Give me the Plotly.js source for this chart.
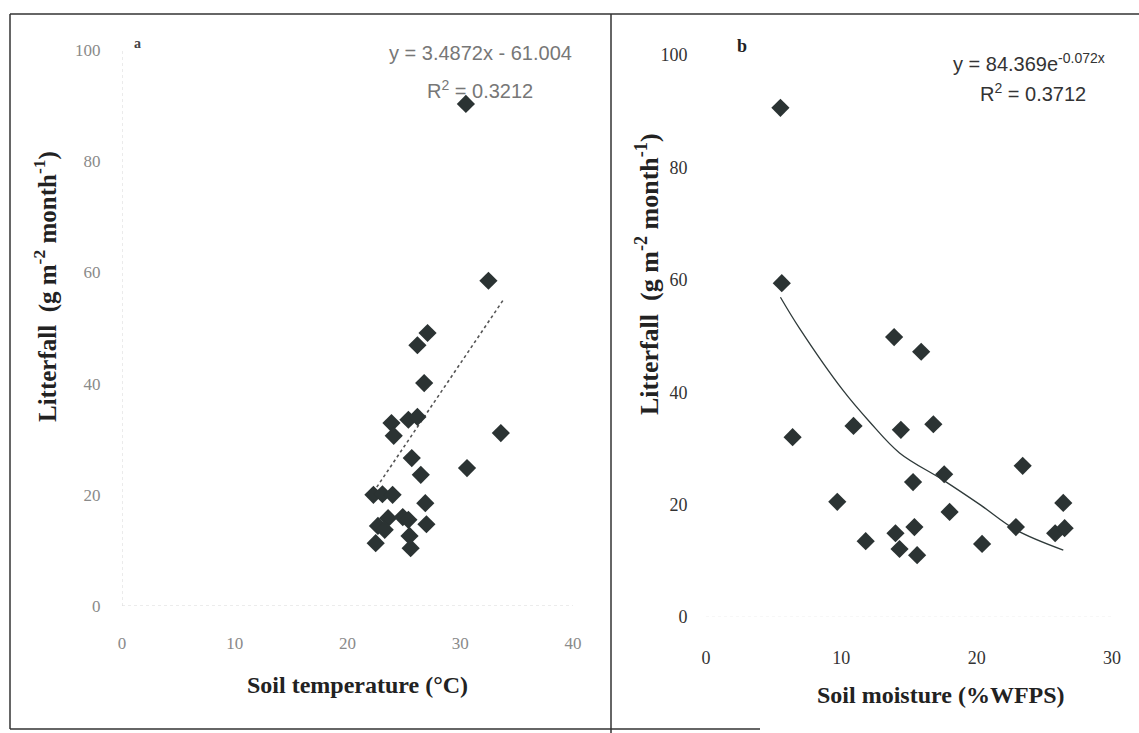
<!DOCTYPE html>
<html>
<head>
<meta charset="utf-8">
<script src="https://cdn.plot.ly/plotly-3.0.1.min.js"></script>
<style>html,body{margin:0;padding:0;background:#fff;}#chart{width:1139px;height:733px;}</style>
</head>
<body>
<div id="chart"></div>
<script>
// Panel a: soil temperature vs litterfall
const tempA = [30.5, 32.5, 27.1, 26.2, 26.8, 23.9, 25.4, 26.2, 24.1, 33.6, 25.7, 30.6, 26.5, 22.3, 23.1, 24.0, 26.9, 22.7, 23.6, 24.9, 25.4, 23.3, 27.0, 25.5, 22.5, 25.6];
const litterA = [90.3, 58.5, 49.1, 46.9, 40.1, 32.9, 33.5, 34.0, 30.6, 31.1, 26.6, 24.8, 23.6, 20.0, 20.1, 20.0, 18.5, 14.4, 15.8, 16.0, 15.5, 13.7, 14.7, 12.6, 11.3, 10.4];
// linear trend line endpoints
const trendAx = [22.0, 33.8];
const trendAy = [19.6, 55.0];

// Panel b: soil moisture vs litterfall
const moistB = [5.5, 5.6, 6.4, 13.9, 15.9, 10.9, 14.4, 16.8, 23.4, 17.6, 15.3, 9.7, 18.0, 26.4, 15.4, 14.0, 22.9, 25.8, 26.5, 11.8, 14.3, 15.6, 20.4];
const litterB = [90.6, 59.4, 32.0, 49.8, 47.2, 34.0, 33.3, 34.3, 26.9, 25.4, 24.0, 20.5, 18.7, 20.3, 16.0, 14.9, 16.0, 14.9, 15.8, 13.5, 12.1, 11.0, 13.0];
// exponential trend curve
const trendBx = [5.5, 6.9, 10.1, 12.1, 14.3, 17.5, 20.3, 22.9, 26.4];
const trendBy = [56.9, 51.4, 40.4, 34.7, 29.2, 24.4, 19.9, 15.5, 11.9];

const xTicksA = [0, 10, 20, 30, 40];
const yTicks = [0, 20, 40, 60, 80, 100];
const xTicksB = [0, 10, 20, 30];

const W = 1139, H = 733;
const px = v => v / W;
const py = v => 1 - v / H;

const markerStyle = {symbol: 'diamond', size: 14, color: '#2b3333', line: {width: 0}};

const traces = [
  {x: trendAx, y: trendAy, mode: 'lines', xaxis: 'x', yaxis: 'y', line: {color: '#555', width: 1.6, dash: 'dot'}, showlegend: false, hoverinfo: 'skip'},
  {x: tempA, y: litterA, mode: 'markers', xaxis: 'x', yaxis: 'y', marker: markerStyle, showlegend: false, cliponaxis: false},
  {x: trendBx, y: trendBy, mode: 'lines', xaxis: 'x2', yaxis: 'y2', line: {color: '#2f3a3a', width: 1.3, shape: 'spline'}, showlegend: false, hoverinfo: 'skip'},
  {x: moistB, y: litterB, mode: 'markers', xaxis: 'x2', yaxis: 'y2', marker: markerStyle, showlegend: false, cliponaxis: false}
];

const serif = 'Liberation Serif, Times New Roman, serif';
const sans = 'Liberation Sans, Arial, sans-serif';
const yTitle = '<b>Litterfall  (g m<sup>-2</sup> month<sup>-1</sup>)</b>';

const layout = {
  width: W, height: H,
  margin: {l: 0, r: 0, t: 0, b: 0},
  paper_bgcolor: '#fff', plot_bgcolor: 'rgba(0,0,0,0)',
  showlegend: false,
  xaxis: {
    domain: [px(122), px(573)], range: [0, 40], anchor: 'y',
    tickvals: xTicksA, ticktext: xTicksA.map(String),
    showgrid: false, zeroline: false, showline: false,
    ticks: 'outside', ticklen: 22, tickcolor: 'rgba(0,0,0,0)',
    tickfont: {family: serif, size: 17, color: '#8a8a8a'}
  },
  yaxis: {
    domain: [py(606), py(50)], range: [0, 100], anchor: 'x',
    tickvals: yTicks, ticktext: yTicks.map(String),
    showgrid: false, zeroline: false, showline: false,
    ticks: 'outside', ticklen: 17, tickcolor: 'rgba(0,0,0,0)',
    tickfont: {family: serif, size: 17, color: '#8a8a8a'}
  },
  xaxis2: {
    domain: [px(706), px(1112)], range: [0, 30], anchor: 'y2',
    tickvals: xTicksB, ticktext: xTicksB.map(String),
    showgrid: false, zeroline: false, showline: false,
    ticks: 'outside', ticklen: 24, tickcolor: 'rgba(0,0,0,0)',
    tickfont: {family: serif, size: 18, color: '#333'}
  },
  yaxis2: {
    domain: [py(617), py(55)], range: [0, 100], anchor: 'x2',
    tickvals: yTicks, ticktext: yTicks.map(String),
    showgrid: false, zeroline: false, showline: false,
    ticks: 'outside', ticklen: 14, tickcolor: 'rgba(0,0,0,0)',
    tickfont: {family: serif, size: 18, color: '#333'}
  },
  shapes: [
    // figure frame
    {type: 'line', xref: 'paper', yref: 'paper', x0: px(10), x1: 1, y0: py(14), y1: py(14), line: {color: '#333', width: 1.5}},
    {type: 'line', xref: 'paper', yref: 'paper', x0: px(10), x1: px(10), y0: py(14), y1: py(729), line: {color: '#333', width: 1.5}},
    {type: 'line', xref: 'paper', yref: 'paper', x0: px(10), x1: px(760), y0: py(729), y1: py(729), line: {color: '#333', width: 1.5}},
    {type: 'line', xref: 'paper', yref: 'paper', x0: px(611), x1: px(611), y0: py(14), y1: 0, line: {color: '#333', width: 1.5}},
    // faint dotted axes of panel a
    {type: 'line', xref: 'x', yref: 'y', x0: 0, x1: 0, y0: 0, y1: 100, line: {color: '#d8d8d8', width: 1, dash: 'dot'}},
    {type: 'line', xref: 'x', yref: 'y', x0: 0, x1: 40, y0: 0, y1: 0, line: {color: '#d8d8d8', width: 1, dash: 'dot'}},
    {type: 'line', xref: 'x2', yref: 'y2', x0: 0, x1: 30, y0: 0, y1: 0, line: {color: '#eeeeee', width: 1, dash: 'dot'}}
  ],
  annotations: [
    // panel letters
    {xref: 'paper', yref: 'paper', x: px(137), y: py(43), text: '<b>a</b>', showarrow: false, xanchor: 'center', yanchor: 'middle', font: {family: serif, size: 14, color: '#444'}},
    {xref: 'paper', yref: 'paper', x: px(742), y: py(46), text: '<b>b</b>', showarrow: false, xanchor: 'center', yanchor: 'middle', font: {family: serif, size: 18, color: '#222'}},
    // regression equations
    {xref: 'paper', yref: 'paper', x: px(480), y: py(53), text: 'y = 3.4872x - 61.004', showarrow: false, xanchor: 'center', yanchor: 'middle', font: {family: sans, size: 20, color: '#777'}},
    {xref: 'paper', yref: 'paper', x: px(480), y: py(89), text: 'R<sup>2</sup> = 0.3212', showarrow: false, xanchor: 'center', yanchor: 'middle', font: {family: sans, size: 20, color: '#777'}},
    {xref: 'paper', yref: 'paper', x: px(1029), y: py(62), text: 'y = 84.369e<sup>-0.072x</sup>', showarrow: false, xanchor: 'center', yanchor: 'middle', font: {family: sans, size: 20, color: '#333'}},
    {xref: 'paper', yref: 'paper', x: px(1033), y: py(93), text: 'R<sup>2</sup> = 0.3712', showarrow: false, xanchor: 'center', yanchor: 'middle', font: {family: sans, size: 20, color: '#333'}},
    // axis titles
    {xref: 'paper', yref: 'paper', x: px(357), y: py(685), text: '<b>Soil temperature (°C)</b>', showarrow: false, xanchor: 'center', yanchor: 'middle', font: {family: serif, size: 24, color: '#222'}},
    {xref: 'paper', yref: 'paper', x: px(941), y: py(695), text: '<b>Soil moisture (%WFPS)</b>', showarrow: false, xanchor: 'center', yanchor: 'middle', font: {family: serif, size: 24, color: '#222'}},
    {xref: 'paper', yref: 'paper', x: px(45), y: py(287), text: yTitle, textangle: -90, showarrow: false, xanchor: 'center', yanchor: 'middle', font: {family: serif, size: 25, color: '#222'}},
    {xref: 'paper', yref: 'paper', x: px(647), y: py(274), text: yTitle, textangle: -90, showarrow: false, xanchor: 'center', yanchor: 'middle', font: {family: serif, size: 26, color: '#222'}}
  ]
};

Plotly.newPlot('chart', traces, layout, {displayModeBar: false, staticPlot: true});
</script>
</body>
</html>
